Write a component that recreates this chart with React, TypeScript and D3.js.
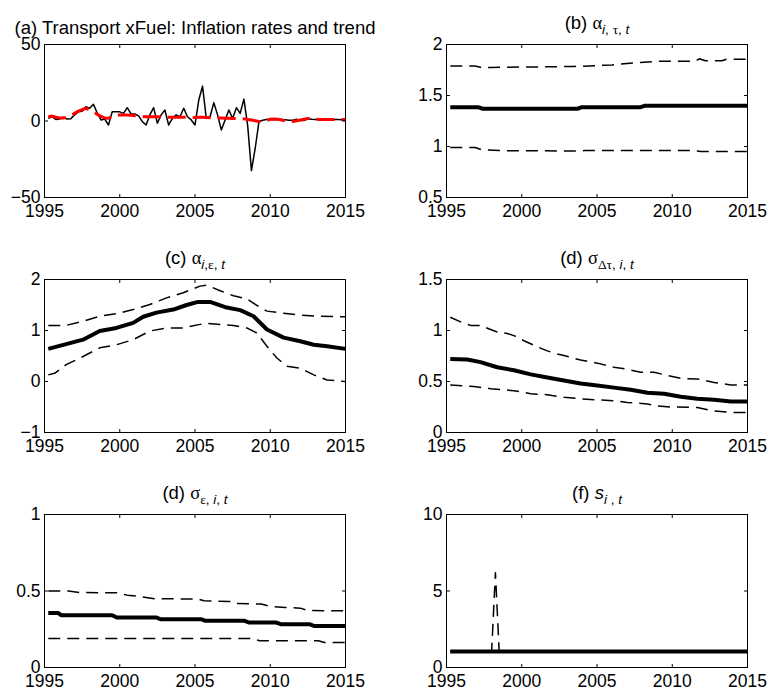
import React from 'react';
import * as d3 from 'd3';

const W = 769;
const H = 690;
const SANS = '"Liberation Sans", Arial, Helvetica, sans-serif';
const SERIF = '"Liberation Serif", "Times New Roman", serif';

const xTicks = [1995, 2000, 2005, 2010, 2015];

// ---------- panel (a): quarterly inflation and trend ----------
const aStartYear = 1995.25;
const aInflation = [1.7, 2.8, 1.0, 1.3, 2.4, 1.3, 1.5, 4.0, 6.0, 6.3, 9.3, 8.3, 10.9, 5.4, 0.7, 1.3, -2.6, 6.0, 6.0, 6.0, 5.0, 8.7, 4.6, 4.6, 3.3, -0.4, -2.6, 4.0, 8.7, -1.5, 4.0, 7.2, -2.6, 1.7, 4.0, 2.8, 8.3, 2.8, 0.7, -2.6, 13.7, 22.8, 1.7, 2.8, 12.0, 4.0, -5.9, 0.7, 7.2, 1.7, 8.7, 5.0, 14.3, -3.0, -32.4, -17.8, -0.4, 0.5, 1.0, 1.0, 1.0, 1.0, 1.0, 0.8, 0.5, 0.5, 1.2, 0.3, 0.4, 1.5, 1.2, 1.0, 1.0, 1.0, 1.0, 1.0, 1.0, 0.9, 0.8, 0.8];
const aTrend = [2.8, 3.2, 2.5, 2.0, 2.0, 2.5, 3.5, 5.0, 6.5, 7.5, 8.2, 7.5, 6.0, 4.5, 3.0, 2.0, 1.8, 3.0, 3.8, 4.0, 4.0, 4.0, 3.8, 3.5, 3.2, 3.0, 2.8, 2.8, 2.8, 2.7, 2.6, 2.5, 2.4, 2.4, 2.4, 2.4, 2.5, 2.4, 2.3, 2.3, 2.4, 2.4, 2.3, 2.2, 2.1, 2.0, 1.9, 1.8, 1.8, 1.7, 1.6, 1.5, 1.4, 1.0, 0.6, 0.2, -0.3, -0.4, 0.3, 1.2, 1.3, 1.2, 0.6, 0.0, -0.3, -0.3, 0.2, 0.7, 1.2, 1.6, 1.5, 1.2, 1.0, 1.0, 1.0, 1.0, 1.0, 1.0, 1.0, 1.0];
const aYears = aInflation.map((_, i) => aStartYear + i * 0.25);
const aYTicks = [-50, 0, 50];
const aYLabels = ['\u221250', '0', '50'];

// ---------- panel (b): alpha_{i,tau,t} ----------
const bMedT = [1995.25, 1997.1, 1997.4, 2003.7, 2004.0, 2007.9, 2008.2, 2015];
const bMedV = [1.385, 1.385, 1.37, 1.37, 1.385, 1.385, 1.4, 1.4];
const bUpT = [1995.25, 1996.9, 1997.3, 1998.0, 2003.5, 2004.5, 2006.0, 2007.5, 2009.0, 2011.5, 2011.8, 2012.2, 2013.3, 2013.6, 2015];
const bUpV = [1.79, 1.79, 1.775, 1.775, 1.785, 1.79, 1.8, 1.82, 1.835, 1.835, 1.86, 1.84, 1.84, 1.855, 1.855];
const bLoT = [1995.25, 1996.9, 1997.3, 1998.5, 2003.8, 2004.2, 2011.5, 2011.9, 2015];
const bLoV = [0.99, 0.99, 0.97, 0.96, 0.955, 0.96, 0.96, 0.95, 0.95];
const bYTicks = [0.5, 1, 1.5, 2];
const bYLabels = ['0.5', '1', '1.5', '2'];

// ---------- panel (c): alpha_{i,eps,t} ----------
const cMedT = [1995.25, 1997.56, 1998.67, 1999.78, 2000.89, 2001.56, 2002.44, 2003.56, 2004.44, 2005.2, 2006.0, 2007.11, 2008.0, 2008.89, 2009.78, 2010.89, 2012.0, 2012.89, 2013.78, 2015];
const cMedV = [0.64, 0.82, 0.99, 1.05, 1.15, 1.27, 1.35, 1.41, 1.5, 1.56, 1.56, 1.45, 1.4, 1.28, 1.02, 0.86, 0.79, 0.72, 0.69, 0.64];
const cUpT = [1995.25, 1996.44, 1997.56, 1998.67, 1999.78, 2000.89, 2002.0, 2003.11, 2004.22, 2005.33, 2005.78, 2006.67, 2007.56, 2008.44, 2009.33, 2009.78, 2010.89, 2012.0, 2013.11, 2015];
const cUpV = [1.1, 1.1, 1.18, 1.28, 1.33, 1.41, 1.51, 1.64, 1.74, 1.87, 1.89, 1.78, 1.68, 1.62, 1.45, 1.38, 1.34, 1.3, 1.28, 1.27];
const cLoT = [1995.25, 1995.67, 1996.44, 1997.56, 1998.67, 1999.78, 2000.89, 2002.0, 2003.11, 2004.22, 2005.33, 2005.78, 2006.67, 2007.56, 2008.44, 2009.11, 2009.78, 2010.44, 2011.11, 2012.0, 2012.89, 2013.78, 2015];
const cLoV = [0.13, 0.16, 0.33, 0.49, 0.66, 0.72, 0.82, 0.99, 1.05, 1.05, 1.12, 1.14, 1.12, 1.1, 1.05, 0.95, 0.69, 0.46, 0.3, 0.26, 0.13, 0.03, 0.0];
const cYTicks = [-1, 0, 1, 2];
const cYLabels = ['\u22121', '0', '1', '2'];

// ---------- panel (d): sigma_{dtau,i,t} ----------
const dMedT = [1995.25, 1996.37, 1997.26, 1998.37, 1999.48, 2000.59, 2001.7, 2002.8, 2003.91, 2005.02, 2006.13, 2007.24, 2008.35, 2009.46, 2010.57, 2011.67, 2012.78, 2013.89, 2015];
const dMedV = [0.72, 0.715, 0.69, 0.64, 0.61, 0.57, 0.54, 0.51, 0.48, 0.46, 0.44, 0.42, 0.39, 0.38, 0.35, 0.33, 0.32, 0.305, 0.305];
const dUpT = [1995.25, 1996.0, 1996.6, 1997.26, 1997.93, 1998.37, 1999.04, 1999.48, 2000.14, 2001.03, 2001.7, 2002.36, 2002.8, 2003.91, 2005.02, 2006.13, 2007.02, 2007.9, 2008.79, 2009.68, 2010.57, 2011.67, 2012.78, 2013.89, 2015];
const dUpV = [1.13, 1.08, 1.05, 1.05, 1.01, 0.985, 0.97, 0.95, 0.9, 0.84, 0.8, 0.77, 0.755, 0.71, 0.68, 0.64, 0.62, 0.59, 0.59, 0.56, 0.53, 0.525, 0.49, 0.466, 0.466];
const dLoT = [1995.25, 1996.82, 1997.93, 1999.48, 2000.59, 2001.7, 2002.8, 2003.91, 2005.02, 2006.13, 2007.02, 2008.35, 2009.01, 2009.9, 2011.67, 2012.78, 2013.89, 2015];
const dLoV = [0.466, 0.45, 0.43, 0.41, 0.38, 0.37, 0.345, 0.33, 0.32, 0.31, 0.295, 0.28, 0.26, 0.25, 0.245, 0.21, 0.197, 0.197];
const dYTicks = [0, 0.5, 1, 1.5];
const dYLabels = ['0', '0.5', '1', '1.5'];

// ---------- panel (e): sigma_{eps,i,t} ----------
const eMedT = [1995.25, 1995.9, 1996.1, 1999.5, 1999.8, 2002.4, 2002.7, 2005.4, 2005.7, 2008.3, 2008.6, 2010.4, 2010.7, 2012.6, 2012.9, 2015];
const eMedV = [0.357, 0.357, 0.342, 0.342, 0.327, 0.327, 0.316, 0.316, 0.305, 0.305, 0.294, 0.294, 0.283, 0.283, 0.272, 0.272];
const eUpT = [1995.25, 1996.6, 1997.3, 1999.8, 2000.5, 2001.3, 2002.3, 2005.2, 2005.6, 2007.3, 2007.6, 2009.4, 2010.0, 2011.0, 2012.0, 2012.5, 2015];
const eUpV = [0.5, 0.5, 0.49, 0.488, 0.473, 0.465, 0.45, 0.447, 0.436, 0.432, 0.418, 0.415, 0.4, 0.392, 0.388, 0.372, 0.37];
const eLoT = [1995.25, 2008.8, 2009.3, 2013.2, 2013.6, 2015];
const eLoV = [0.19, 0.19, 0.175, 0.175, 0.163, 0.163];
const eYTicks = [0, 0.5, 1];
const eYLabels = ['0', '0.5', '1'];

// ---------- panel (f): s_{i,t} ----------
const fMedT = [1995.25, 2015];
const fMedV = [1.05, 1.05];
const fUpT = [1995.25, 1998.0, 1998.25, 1998.5, 2015];
const fUpV = [1.05, 1.05, 6.2, 1.05, 1.05];
const fLoT = [1995.25, 2015];
const fLoV = [1.05, 1.05];
const fYTicks = [0, 5, 10];
const fYLabels = ['0', '5', '10'];

// ---------- layout ----------
const colX = [44, 446];
const rowY = [44, 279, 514];
const PW = 301;
const PH = 153;
const TICK_FS = 17.5;
const TITLE_FS = 18.5;
const SUB_FS = 13.5;

type Series = { t: number[]; v: number[]; stroke: string; width: number; dash?: string };

function Panel(props: {
  x: number; y: number; yDomain: [number, number]; yTicks: number[]; yLabels: string[];
  series: Series[]; title: React.ReactNode; titleY: number;
}) {
  const { x, y, yDomain, yTicks, yLabels, series, title, titleY } = props;
  const xs = d3.scaleLinear().domain([1995, 2015]).range([0, PW]);
  const ys = d3.scaleLinear().domain(yDomain).range([PH, 0]);
  const TL = 3.5;
  return (
    <g transform={`translate(${x + 0.5},${y + 0.5})`}>
      {series.map((s, i) => {
        const pts: [number, number][] = s.t.map((t, k) => [t, s.v[k]]);
        const line = d3.line<[number, number]>().x(d => xs(d[0])).y(d => ys(d[1]));
        return (
          <path key={i} d={line(pts) || ''} fill="none" stroke={s.stroke} strokeWidth={s.width}
            strokeDasharray={s.dash} strokeLinejoin="round" />
        );
      })}
      <rect x={0} y={0} width={PW} height={PH} fill="none" stroke="#000" strokeWidth={1} />
      {xTicks.map(t => (
        <g key={'x' + t}>
          <line x1={xs(t)} x2={xs(t)} y1={PH} y2={PH - TL} stroke="#000" />
          <line x1={xs(t)} x2={xs(t)} y1={0} y2={TL} stroke="#000" />
          <text x={xs(t)} y={PH + 19} textAnchor="middle" fontSize={TICK_FS} fontFamily={SANS}>{t}</text>
        </g>
      ))}
      {yTicks.map((t, i) => (
        <g key={'y' + t}>
          <line x1={0} x2={TL} y1={ys(t)} y2={ys(t)} stroke="#000" />
          <line x1={PW} x2={PW - TL} y1={ys(t)} y2={ys(t)} stroke="#000" />
          <text x={-4} y={ys(t)} dy="0.33em" textAnchor="end" fontSize={TICK_FS} fontFamily={SANS}>{yLabels[i]}</text>
        </g>
      ))}
      <text x={PW / 2} y={titleY} textAnchor="middle" fontSize={TITLE_FS} fontFamily={SANS}>{title}</text>
    </g>
  );
}

const band = (mt: number[], mv: number[], ut: number[], uv: number[], lt: number[], lv: number[]): Series[] => [
  { t: ut, v: uv, stroke: '#000', width: 1.5, dash: '12,7' },
  { t: lt, v: lv, stroke: '#000', width: 1.5, dash: '12,7' },
  { t: mt, v: mv, stroke: '#000', width: 4 },
];

export default function App() {
  const it = (s: string) => <tspan fontStyle="italic">{s}</tspan>;
  const gr = (s: string) => <tspan fontFamily={SERIF}>{s}</tspan>;
  const sub = (children: React.ReactNode) => <tspan dy={5} fontSize={SUB_FS}>{children}</tspan>;
  return (
    <svg width={W} height={H} style={{ position: 'absolute', left: 0, top: 0, background: '#fff' }}>
      <rect x={0} y={0} width={W} height={H} fill="#fff" />
      <Panel x={colX[0]} y={rowY[0]} yDomain={[-50, 50]} yTicks={aYTicks} yLabels={aYLabels}
        titleY={-11}
        series={[
          { t: aYears, v: aInflation, stroke: '#000', width: 1.5 },
          { t: aYears, v: aTrend, stroke: '#ff0000', width: 3, dash: '18,7' },
        ]}
        title={'(a) Transport xFuel: Inflation rates and trend'} />
      <Panel x={colX[1]} y={rowY[0]} yDomain={[0.5, 2]} yTicks={bYTicks} yLabels={bYLabels}
        titleY={-16} series={band(bMedT, bMedV, bUpT, bUpV, bLoT, bLoV)}
        title={<>{'(b) '}{gr('\u03b1')}{sub(<>{it('i')}{', '}{gr('\u03c4')}{', '}{it('t')}</>)}</>} />
      <Panel x={colX[0]} y={rowY[1]} yDomain={[-1, 2]} yTicks={cYTicks} yLabels={cYLabels}
        titleY={-16} series={band(cMedT, cMedV, cUpT, cUpV, cLoT, cLoV)}
        title={<>{'(c) '}{gr('\u03b1')}{sub(<>{it('i')}{','}{gr('\u03b5')}{', '}{it('t')}</>)}</>} />
      <Panel x={colX[1]} y={rowY[1]} yDomain={[0, 1.5]} yTicks={dYTicks} yLabels={dYLabels}
        titleY={-16} series={band(dMedT, dMedV, dUpT, dUpV, dLoT, dLoV)}
        title={<>{'(d) '}{gr('\u03c3')}{sub(<>{gr('\u0394\u03c4')}{', '}{it('i')}{', '}{it('t')}</>)}</>} />
      <Panel x={colX[0]} y={rowY[2]} yDomain={[0, 1]} yTicks={eYTicks} yLabels={eYLabels}
        titleY={-16} series={band(eMedT, eMedV, eUpT, eUpV, eLoT, eLoV)}
        title={<>{'(d) '}{gr('\u03c3')}{sub(<>{gr('\u03b5')}{', '}{it('i')}{', '}{it('t')}</>)}</>} />
      <Panel x={colX[1]} y={rowY[2]} yDomain={[0, 10]} yTicks={fYTicks} yLabels={fYLabels}
        titleY={-16} series={band(fMedT, fMedV, fUpT, fUpV, fLoT, fLoV)}
        title={<>{'(f) '}{it('s')}{sub(<>{it('i')}{' , '}{it('t')}</>)}</>} />
    </svg>
  );
}
